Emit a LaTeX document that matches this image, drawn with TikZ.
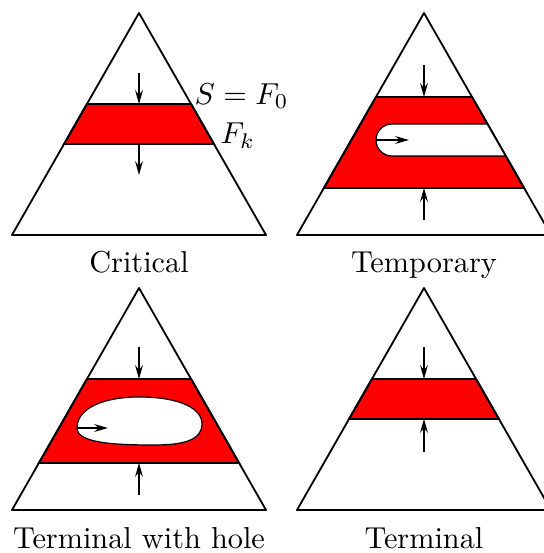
\documentclass[tikz,border=0pt]{standalone}
\usetikzlibrary{calc,arrows.meta}
\begin{document}
\begin{tikzpicture}[
  x=3.3pt, y=3.3pt,
  tri/.style={draw, semithick, line join=round},
  band/.style={draw, semithick, fill=red},
  hole/.style={fill=white},
  rim/.style={draw, thin},
  push/.style={thin, -{Stealth[length=4.6pt, width=2.6pt, inset=1.6pt]}},
  caption/.style={anchor=base}
]
  \useasboundingbox (0,0) rectangle (54.4,55.3);

  % Critical
  \begin{scope}[shift={(13.9,31.8)}]
    \coordinate (apex1) at (0,22.2);
    \coordinate (left1) at (-12.7,0);
    \coordinate (right1) at (12.7,0);
    \coordinate (mid1) at (0,0);
    \draw[band] ($(apex1)!0.41!(left1)$) -- ($(apex1)!0.41!(right1)$)
      -- ($(apex1)!0.59!(right1)$) -- ($(apex1)!0.59!(left1)$) -- cycle;
    \draw[tri] (apex1) -- (left1) -- (right1) -- cycle;
    \coordinate (s1) at (0,16.2);
    \coordinate (f01) at ($(apex1)!0.41!(mid1)$);
    \coordinate (fk1) at ($(apex1)!0.59!(mid1)$);
    \coordinate (e1) at (0,6.0);
    \draw[push] (s1) -- (f01);
    \draw[push] (fk1) -- (e1);
    \node[anchor=base west, inner sep=1pt] (lab0) at ($(apex1)!0.41!(right1)$) {$S=F_0$};
    \node[anchor=base west, inner sep=1pt, xshift=1pt] (labk) at ($(apex1)!0.59!(right1)$) {$F_k$};
    \node[caption] (cap1) at (0,-3.8) {Critical};
  \end{scope}

  % Temporary
  \begin{scope}[shift={(42.4,31.8)}]
    \coordinate (apex2) at (0,22.2);
    \coordinate (left2) at (-12.7,0);
    \coordinate (right2) at (12.7,0);
    \coordinate (mid2) at (0,0);
    \draw[band] ($(apex2)!0.378!(left2)$) -- ($(apex2)!0.378!(right2)$)
      -- ($(apex2)!0.788!(right2)$) -- ($(apex2)!0.788!(left2)$) -- cycle;
    \fill[hole] ($(apex2)!0.5!(right2)$) -- (-3.2,11.1) arc (90:270:1.6)
      -- ($(apex2)!0.644!(right2)$) -- cycle;
    \draw[rim] ($(apex2)!0.5!(right2)$) -- (-3.2,11.1) arc (90:270:1.6)
      -- ($(apex2)!0.644!(right2)$);
    \draw[tri] (apex2) -- (left2) -- (right2) -- cycle;
    \coordinate (s2) at (0,17.0);
    \coordinate (f02) at ($(apex2)!0.378!(mid2)$);
    \coordinate (fk2) at ($(apex2)!0.788!(mid2)$);
    \coordinate (e2) at (0,1.5);
    \coordinate (h2) at (-4.8,9.5);
    \coordinate (g2) at (-1.5,9.5);
    \draw[push] (s2) -- (f02);
    \draw[push] (e2) -- (fk2);
    \draw[push] (h2) -- (g2);
    \node[caption] (cap2) at (0,-3.8) {Temporary};
  \end{scope}

  % Terminal with hole
  \begin{scope}[shift={(13.9,4.3)}]
    \coordinate (apex3) at (0,22.2);
    \coordinate (left3) at (-12.7,0);
    \coordinate (right3) at (12.7,0);
    \coordinate (mid3) at (0,0);
    \draw[band] ($(apex3)!0.41!(left3)$) -- ($(apex3)!0.41!(right3)$)
      -- ($(apex3)!0.788!(right3)$) -- ($(apex3)!0.788!(left3)$) -- cycle;
    \filldraw[hole, rim] (-6.2,8.2) .. controls (-6.2,10.2) and (-3.5,11.3) .. (0,11.3)
      .. controls (4,11.3) and (6.3,10.2) .. (6.3,8.6)
      .. controls (6.3,7.0) and (4.5,6.5) .. (1.5,6.5)
      .. controls (-2.5,6.5) and (-6.2,6.7) .. cycle;
    \draw[tri] (apex3) -- (left3) -- (right3) -- cycle;
    \coordinate (s3) at (0,16.3);
    \coordinate (f03) at ($(apex3)!0.41!(mid3)$);
    \coordinate (fk3) at ($(apex3)!0.788!(mid3)$);
    \coordinate (e3) at (0,1.5);
    \coordinate (h3) at (-6.2,8.2);
    \coordinate (g3) at (-3.1,8.2);
    \draw[push] (s3) -- (f03);
    \draw[push] (e3) -- (fk3);
    \draw[push] (h3) -- (g3);
    \node[caption] (cap3) at (0,-3.85) {Terminal with hole};
  \end{scope}

  % Terminal
  \begin{scope}[shift={(42.4,4.3)}]
    \coordinate (apex4) at (0,22.2);
    \coordinate (left4) at (-12.7,0);
    \coordinate (right4) at (12.7,0);
    \coordinate (mid4) at (0,0);
    \draw[band] ($(apex4)!0.41!(left4)$) -- ($(apex4)!0.41!(right4)$)
      -- ($(apex4)!0.59!(right4)$) -- ($(apex4)!0.59!(left4)$) -- cycle;
    \draw[tri] (apex4) -- (left4) -- (right4) -- cycle;
    \coordinate (s4) at (0,16.3);
    \coordinate (f04) at ($(apex4)!0.41!(mid4)$);
    \coordinate (fk4) at ($(apex4)!0.59!(mid4)$);
    \coordinate (e4) at (0,5.8);
    \draw[push] (s4) -- (f04);
    \draw[push] (e4) -- (fk4);
    \node[caption] (cap4) at (0,-3.85) {Terminal};
  \end{scope}
\end{tikzpicture}
\end{document}
